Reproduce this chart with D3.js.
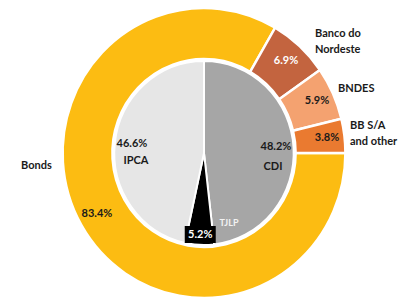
<!DOCTYPE html>
<html lang="en">
<head>
    <script src="https://d3js.org/d3.v7.min.js"></script>
    <style>
        body { margin: 0; background: #fff; }
        text { font-family: Lato, sans-serif; font-weight: 700; }
    </style>
</head>
<body>
<script>
    var width = 417, height = 308;
    var cx = 204, cy = 153, sx = 0.975;

    // outer ring: funding sources
    var outerNames = ["Bonds", "Banco do Nordeste", "BNDES", "BB S/A and other"];
    var outerValues = [83.4, 6.9, 5.9, 3.8];
    var outerColors = ["#FCBC12", "#C3643F", "#F4A270", "#EA7A30"];

    // inner pie: indexers
    var innerNames = ["CDI", "TJLP", "IPCA"];
    var innerValues = [48.2, 5.2, 46.6];
    var innerColors = ["#A6A6A6", "#000000", "#E6E6E6"];

    var svg = d3.select("body").append("svg").attr("width", width).attr("height", height);
    var g = svg.append("g").attr("transform", "translate(" + cx + "," + cy + ") scale(" + sx + ",1)");

    // bonds start at 3 o'clock, small slices close the ring
    var outerPie = d3.pie().sort(null).startAngle(Math.PI / 2).endAngle(Math.PI / 2 + 2 * Math.PI);
    var innerPie = d3.pie().sort(null);

    var outerArc = d3.arc().innerRadius(94).outerRadius(145);
    var innerArc = d3.arc().innerRadius(0).outerRadius(92);

    var outerData = outerPie(outerValues);
    var innerData = innerPie(innerValues);

    g.selectAll("path.outer").data(outerData).join("path")
        .attr("class", "outer")
        .attr("d", outerArc)
        .attr("fill", function(d, i) { return outerColors[i]; })
        .attr("stroke", "#fff").attr("stroke-width", 2.5);

    g.selectAll("path.inner").data(innerData).join("path")
        .attr("class", "inner")
        .attr("d", innerArc)
        .attr("fill", function(d, i) { return innerColors[i]; })
        .attr("stroke", "#fff").attr("stroke-width", 2);

    // point at angle a (radians from top), radius r
    function pt(a, r) {
        return [cx + sx * r * Math.sin(a), cy - r * Math.cos(a)];
    }
    function mid(d) { return (d.startAngle + d.endAngle) / 2; }

    var labels = svg.append("g");

    function txt(x, y, s, anchor, color, size) {
        return labels.append("text").attr("x", x).attr("y", y)
            .attr("text-anchor", anchor || "middle")
            .attr("dominant-baseline", "middle")
            .attr("fill", color || "#1a1a1a")
            .attr("font-size", size || 11)
            .text(s);
    }

    // outer value labels
    txt(97, 214, outerValues[0].toFixed(1) + "%");
    txt(286, 61, outerValues[1].toFixed(1) + "%", "middle", "#fff");
    txt(317, 101, outerValues[2].toFixed(1) + "%");
    txt(327, 138, outerValues[3].toFixed(1) + "%");

    // outer category labels
    txt(21, 166, outerNames[0], "start");
    txt(315, 34, "Banco do", "start");
    txt(315, 50, "Nordeste", "start");
    txt(338, 89, outerNames[2], "start");
    txt(350, 126, "BB S/A", "start");
    txt(350, 142, "and other", "start");

    // inner labels
    txt(276, 147, innerValues[0].toFixed(1) + "%");
    txt(273, 167, innerNames[0]);
    txt(132, 144, innerValues[2].toFixed(1) + "%");
    txt(136, 161, innerNames[2]);

    // TJLP: black box label at the slice's outer end
    var tj = pt(mid(innerData[1]), 87);
    labels.append("rect").attr("x", tj[0] - 15).attr("y", 226).attr("width", 31).attr("height", 17).attr("fill", "#000");
    txt(tj[0] + 0.5, 235, innerValues[1].toFixed(1) + "%", "middle", "#fff");
    txt(229, 224, innerNames[1], "middle", "#f2f2f2", 9);
</script>
</body>
</html>
